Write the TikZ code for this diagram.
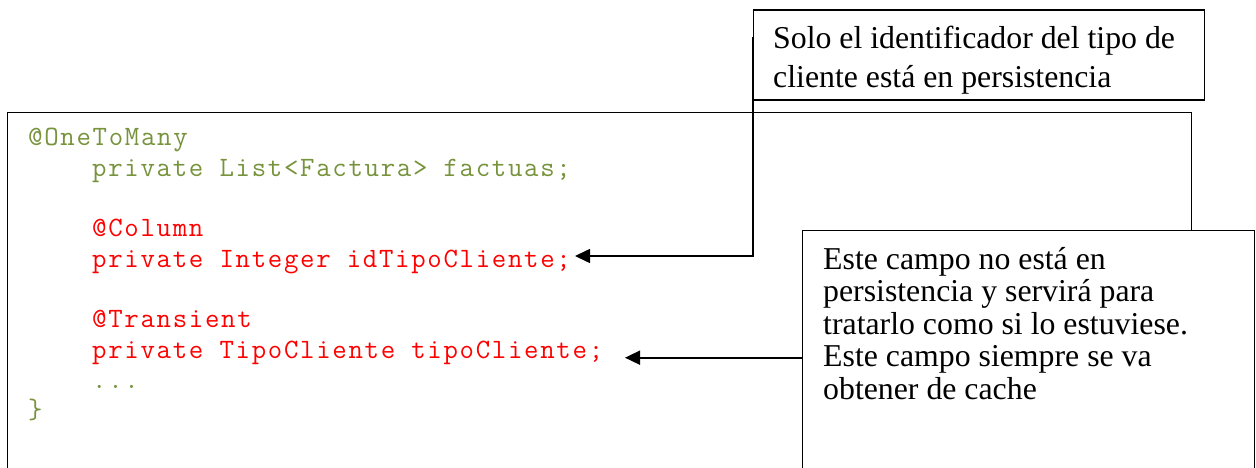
\documentclass[tikz,border=0pt]{standalone}
\usepackage{fontspec}
\setmainfont{Liberation Serif}
\setmonofont[LetterSpace=6.1]{Latin Modern Mono}
\usetikzlibrary{arrows.meta,calc}

\definecolor{codegreen}{RGB}{119,147,60}
\definecolor{codered}{RGB}{255,0,0}

\newcommand\codefont{\ttfamily\fontsize{28}{30}\selectfont}
\newcommand\notefont{\rmfamily\fontsize{31.8}{32}\selectfont}

\tikzset{
  panel/.style={draw=black, line width=1.3pt, fill=white, inner sep=0pt, anchor=north west},
  codeline/.style={anchor=base west, inner sep=0pt, font=\codefont},
  noteline/.style={anchor=base west, inner sep=0pt, font=\notefont, text=black},
  pointer/.style={draw=black, line width=1.6pt, -{Triangle[length=15pt,width=14pt]}},
}

\begin{document}
\begin{tikzpicture}[x=1pt,y=-1pt]
\useasboundingbox (0,0) rectangle (1256,468);
\clip (0,0) rectangle (1256,468);

% code listing frame
\node[panel, minimum width=1184pt, minimum height=370pt] (code) at (7,112) {};

% code lines
\node[codeline, text=codegreen] (l0) at (28,146)  {@OneToMany};
\node[codeline, text=codegreen] (l1) at (92,176.3) {private List<Factura> factuas;};
\node[codeline, text=codered]   (l3) at (92,236.9) {@Column};
\node[codeline, text=codered]   (l4) at (92,267.2) {private Integer idTipoCliente;};
\node[codeline, text=codered]   (l6) at (92,327.8) {@Transient};
\node[codeline, text=codered]   (l7) at (92,358.1) {private TipoCliente tipoCliente;};
\node[codeline, text=codegreen] (l8) at (92,388.4) {...};
\node[codeline, text=codegreen] (l9) at (28,418.7) {\}};

% upper note
\node[panel, minimum width=451pt, minimum height=90pt] (note1) at (753,9.5) {};
\node[noteline] (n1a) at (773,49) {Solo el identificador del tipo de};
\node[noteline] (n1b) at (773,88) {cliente está en persistencia};

% pointer from the upper note to the @Column field
\coordinate (src1) at ($(note1.north west)!0.305!(note1.south west)$);
\coordinate (tip1) at (575,256);
\draw[pointer] (src1) |- (tip1);

% lower note
\node[panel, minimum width=452pt, minimum height=260pt] (note2) at (802,229.5) {};
\node[noteline] (n2a) at (823,269)   {Este campo no está en};
\node[noteline] (n2b) at (823,301.5) {persistencia y servirá para};
\node[noteline] (n2c) at (823,334)   {tratarlo como si lo estuviese.};
\node[noteline] (n2d) at (823,366.5) {Este campo siempre se va};
\node[noteline] (n2e) at (823,399)   {obtener de cache};

% pointer from the lower note to the @Transient field
\coordinate (tip2) at (625,357.7);
\draw[pointer] (note2.west |- tip2) -- (tip2);
\end{tikzpicture}
\end{document}
